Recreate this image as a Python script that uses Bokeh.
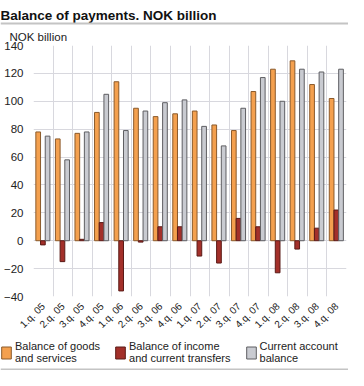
from bokeh.plotting import figure
from bokeh.models import (ColumnDataSource, FixedTicker, Legend, LegendItem,
                          BoxAnnotation, Label)
from bokeh.layouts import column
from bokeh.transform import dodge
from bokeh.embed import file_html
from bokeh.resources import INLINE
import math

quarters = ["1.q. 05", "2.q. 05", "3.q. 05", "4.q. 05",
            "1.q. 06", "2.q. 06", "3.q. 06", "4.q. 06",
            "1.q. 07", "2.q. 07", "3.q. 07", "4.q. 07",
            "1.q. 08", "2.q. 08", "3.q. 08", "4.q. 08"]
goods = [78, 73, 77, 92, 114, 95, 89, 91, 93, 83, 79, 107, 123, 129, 112, 102]
income = [-3, -15, 1, 13, -36, -1, 10, 10, -11, -16, 16, 10, -23, -6, 9, 22]
current = [75, 58, 78, 105, 79, 93, 99, 101, 82, 68, 95, 117, 100, 123, 121, 123]
y_ticks = [-40, -20, 0, 20, 40, 60, 80, 100, 120, 140]

series_names = ["Balance of goods\nand services",
                "Balance of income\nand current transfers",
                "Current account\nbalance"]
series_fields = ["goods", "income", "current"]
colors = ["#F4A04E", "#A3302A", "#C9CBD1"]
edges = ["#8B5A2B", "#5A1A16", "#5E5E62"]

FONT = "Liberation Sans"
W = 348
LEFT = 24

pos = [i + 0.5 for i in range(len(quarters))]
src = ColumnDataSource(dict(x=pos, goods=goods, income=income, current=current))


def bare(height, y_range=(0, 1)):
    f = figure(width=W, height=height, x_range=(0, 1), y_range=y_range,
               x_axis_location=None, y_axis_location=None,
               output_backend="svg", toolbar_location=None, frame_align=False,
               min_border_left=0, min_border_right=0, min_border_top=0, min_border_bottom=0)
    f.grid.visible = False
    f.outline_line_color = None
    return f


# ---------- header ----------
head = bare(25)
head.add_layout(Label(x=0, y=10, x_units="screen", y_units="screen",
                      text="Balance of payments. NOK billion", text_font=FONT,
                      text_font_size="13.5px", text_font_style="bold", text_color="#111111",
                      text_baseline="alphabetic"))
head.add_layout(BoxAnnotation(left=0, right=W, bottom=1, top=3,
                              left_units="screen", right_units="screen",
                              bottom_units="screen", top_units="screen",
                              fill_color="#C4C4C4", fill_alpha=1, line_color=None))

# ---------- main chart ----------
p = figure(width=W, height=311, x_range=(0, len(quarters)), y_range=(-40, 140),
           output_backend="svg", toolbar_location=None, frame_align=False,
           min_border_left=LEFT, min_border_right=2, min_border_top=0, min_border_bottom=0)

bw = 0.24
offsets = [-0.26, -0.02, 0.22]
for fld, off, c, e in zip(series_fields, offsets, colors, edges):
    p.vbar(x=dodge("x", off, range=p.x_range), top=fld, bottom=0, width=bw, source=src,
           fill_color=c, line_color=e, line_width=1)

p.xaxis.ticker = FixedTicker(ticks=pos)
p.xaxis.major_label_overrides = {pos[i]: q for i, q in enumerate(quarters)}
p.xaxis.major_label_orientation = math.pi / 4
p.yaxis.ticker = FixedTicker(ticks=y_ticks)
for ax in (p.xaxis[0], p.yaxis[0]):
    ax.axis_line_color = None
    ax.major_tick_line_color = None
    ax.minor_tick_line_color = None
    ax.major_label_text_font = FONT
    ax.major_label_text_color = "#222222"
p.yaxis.major_label_text_font_size = "11.5px"
p.xaxis.major_label_text_font_size = "10px"
p.yaxis.major_label_standoff = 4
p.xaxis.major_label_standoff = 2

p.xgrid.ticker = FixedTicker(ticks=list(range(len(quarters) + 1)))
p.xgrid.grid_line_color = "#D8D8DE"
p.ygrid.grid_line_color = "#D8D8DE"
p.outline_line_color = None

p.title.text = "NOK billion"
p.title.text_font = FONT
p.title.text_font_size = "11.5px"
p.title.text_font_style = "normal"
p.title.text_color = "#222222"
p.title.offset = -LEFT
p.title.standoff = 6

# ---------- legend footer ----------
foot = bare(34, y_range=(1000, 1001))
lr = [foot.vbar(x="x", top=fld, bottom=0, width=0.1, source=src,
                fill_color=c, line_color=e, line_width=1)
      for fld, c, e in zip(series_fields, colors, edges)]
legend = Legend(items=[LegendItem(label=n, renderers=[r]) for n, r in zip(series_names, lr)],
                orientation="horizontal", location=(0, 6),
                glyph_width=12, glyph_height=15, label_standoff=3, spacing=14,
                label_text_font=FONT, label_text_font_size="11px", label_text_color="#222222",
                label_text_line_height=1.1,
                border_line_color=None, background_fill_alpha=0, padding=0, margin=0)
foot.add_layout(legend, "center")
foot.add_layout(BoxAnnotation(left=0, right=W, bottom=0, top=2,
                              left_units="screen", right_units="screen",
                              bottom_units="screen", top_units="screen",
                              fill_color="#C4C4C4", fill_alpha=1, line_color=None))

layout = column(head, p, foot, spacing=0)
open("out.html", "w").write(file_html(layout, INLINE))
